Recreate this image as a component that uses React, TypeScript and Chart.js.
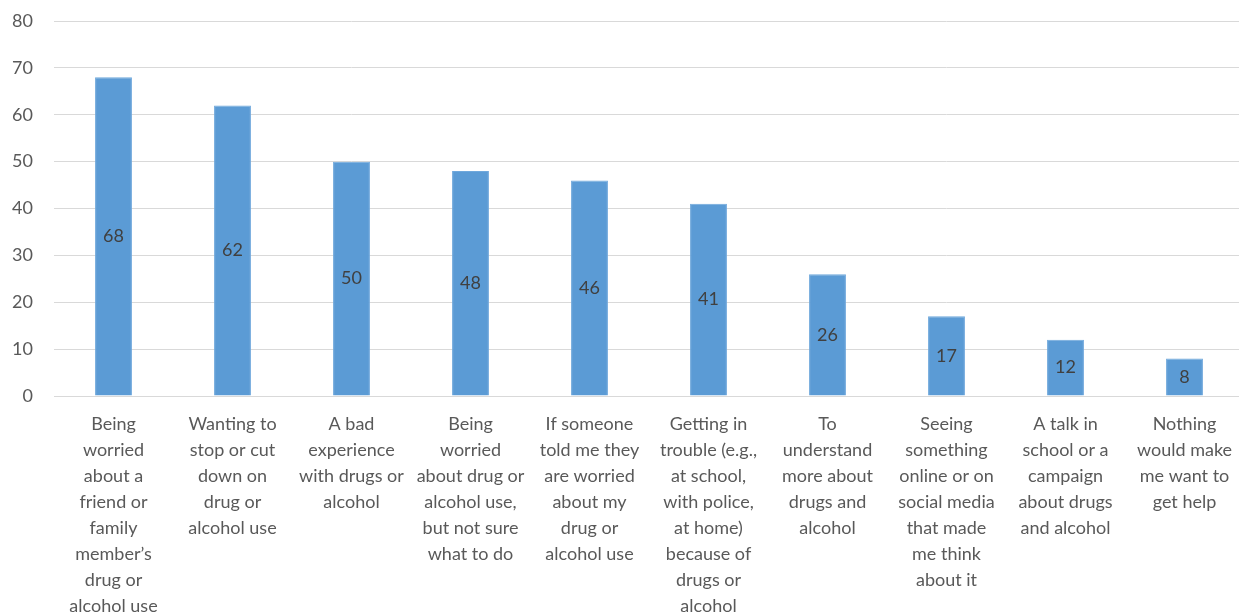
import React, { useEffect, useRef } from "react";
import { Chart, registerables } from "chart.js";

Chart.register(...registerables);

const categories: string[][] = [
  ["Being", "worried", "about a", "friend or", "family", "member’s", "drug or", "alcohol use"],
  ["Wanting to", "stop or cut", "down on", "drug or", "alcohol use"],
  ["A bad", "experience", "with drugs or", "alcohol"],
  ["Being", "worried", "about drug or", "alcohol use,", "but not sure", "what to do"],
  ["If someone", "told me they", "are worried", "about my", "drug or", "alcohol use"],
  ["Getting in", "trouble (e.g.,", "at school,", "with police,", "at home)", "because of", "drugs or", "alcohol"],
  ["To", "understand", "more about", "drugs and", "alcohol"],
  ["Seeing", "something", "online or on", "social media", "that made", "me think", "about it"],
  ["A talk in", "school or a", "campaign", "about drugs", "and alcohol"],
  ["Nothing", "would make", "me want to", "get help"],
];

const values: number[] = [68, 62, 50, 48, 46, 41, 26, 17, 12, 8];

const yMin = 0;
const yMax = 80;
const yStep = 10;

const FONT = "Lato, 'Open Sans', sans-serif";

const centerLabels = {
  id: "centerLabels",
  afterDatasetsDraw(chart: any) {
    const ctx = chart.ctx;
    const meta = chart.getDatasetMeta(0);
    ctx.save();
    ctx.font = `18px ${FONT}`;
    ctx.fillStyle = "#404040";
    ctx.textAlign = "center";
    ctx.textBaseline = "middle";
    meta.data.forEach((bar: any, i: number) => {
      const p = bar.getProps(["x", "y", "base"], true);
      ctx.fillText(String(values[i]), p.x, (p.y + p.base) / 2);
    });
    ctx.restore();
  },
};

function zeroPad(scale: any) {
  scale.paddingTop = 0;
  scale.paddingBottom = 0;
  scale.paddingLeft = 0;
  scale.paddingRight = 0;
}

export default function App() {
  const ref = useRef<HTMLCanvasElement | null>(null);

  useEffect(() => {
    document.body.style.margin = "0";
    if (!ref.current) return;
    const chart = new Chart(ref.current, {
      type: "bar",
      data: {
        labels: categories,
        datasets: [
          {
            data: values,
            backgroundColor: "#5B9BD5",
            borderColor: "#6FA8DC",
            borderWidth: 1,
            barPercentage: 0.31,
            categoryPercentage: 1,
          },
        ],
      },
      plugins: [centerLabels],
      options: {
        animation: false,
        responsive: false,
        maintainAspectRatio: false,
        layout: { padding: { top: 21, right: 0, left: 0, bottom: 0 } },
        plugins: {
          legend: { display: false },
          tooltip: { enabled: false },
          title: { display: false },
        },
        scales: {
          x: {
            grid: { display: false, drawTicks: false },
            border: { display: true, color: "#D9D9D9", width: 1 },
            ticks: {
              autoSkip: false,
              maxRotation: 0,
              minRotation: 0,
              padding: 15,
              color: "#595959",
              font: { family: FONT, size: 18, lineHeight: 26 / 18 },
            },
            afterFit(scale: any) {
              scale.height = 219;
              zeroPad(scale);
            },
          },
          y: {
            min: yMin,
            max: yMax,
            grid: { color: "#D9D9D9", lineWidth: 1, drawTicks: false },
            border: { display: false },
            ticks: {
              stepSize: yStep,
              padding: 21,
              color: "#595959",
              font: { family: FONT, size: 18 },
            },
            afterFit(scale: any) {
              scale.width = 54;
              zeroPad(scale);
            },
          },
        },
      },
    });
    return () => chart.destroy();
  }, []);

  return (
    <div style={{ width: 1239, height: 615, overflow: "hidden" }}>
      <canvas ref={ref} width={1244} height={615} style={{ display: "block" }} />
    </div>
  );
}
